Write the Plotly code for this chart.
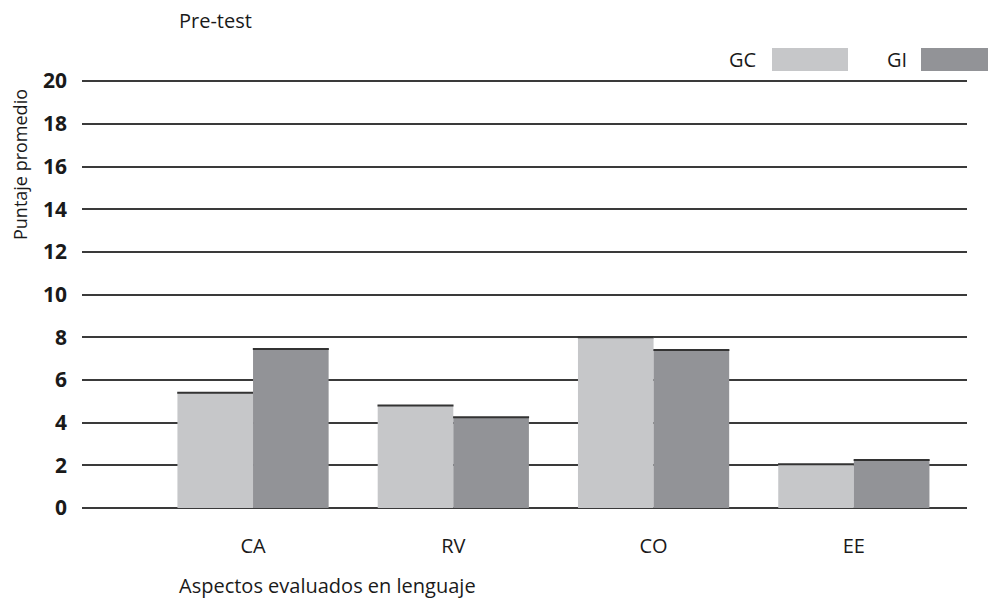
import plotly.graph_objects as go

categories = ["CA", "RV", "CO", "EE"]
gc_values = [5.4, 4.8, 8.0, 2.05]
gi_values = [7.45, 4.25, 7.4, 2.25]
y_ticks = [0, 2, 4, 6, 8, 10, 12, 14, 16, 18, 20]
series_names = ["GC", "GI"]
series_colors = ["#c6c7c9", "#929397"]

W, H = 996, 599
OFF = 8  # page body margin
# desired plot area in page pixels: x 82..967, y 79..508 (range 0..20.1)
L = 82 - OFF
T = 79 - OFF
R = W - (967 - OFF)
B = H - (508 - OFF)
pw, ph = W - L - R, H - T - B

def px(x):
    return (x - OFF - L) / pw

def py(y):
    return (H - B - (y - OFF)) / ph

FONT = "Open Sans"
fig = go.Figure()
for name, vals, col in zip(series_names, [gc_values, gi_values], series_colors):
    fig.add_trace(go.Bar(
        x=categories, y=vals, name=name,
        marker=dict(color=col, line=dict(width=0)),
        error_y=dict(type="data", array=[0] * len(vals), visible=True,
                     color="#333333", thickness=2, width=38),
        showlegend=False,
    ))

fig.update_layout(
    width=W, height=H,
    margin=dict(l=L, r=R, t=T, b=B),
    plot_bgcolor="white", paper_bgcolor="white",
    barmode="group", bargap=0.245, bargroupgap=0,
    font=dict(family=FONT, color="#1a1a1a"),
    xaxis=dict(range=[-0.854, 3.565], showgrid=False, zeroline=False,
               showline=False, ticks="", tickfont=dict(size=20, family=FONT),
               ticklabelstandoff=24),
    yaxis=dict(range=[0, 20.1], tickvals=y_ticks, showgrid=True,
               gridcolor="#3a3a3a", gridwidth=2, zeroline=True,
               zerolinecolor="#3a3a3a", zerolinewidth=2, showline=False,
               ticks="", tickfont=dict(size=21, family=FONT, weight="bold"),
               ticklabelstandoff=14),
)

annots = [
    dict(text="Pre-test", x=px(177), y=py(20), xanchor="left", yanchor="middle", font_size=20),
    dict(text="Aspectos evaluados en lenguaje", x=px(177), y=py(585), xanchor="left", yanchor="middle", font_size=20),
    dict(text="Puntaje promedio", x=px(20), y=py(165), xanchor="center", yanchor="middle", textangle=-90, font_size=18),
    dict(text=series_names[0], x=px(758), y=py(59), xanchor="right", yanchor="middle", font_size=20),
    dict(text=series_names[1], x=px(909), y=py(59), xanchor="right", yanchor="middle", font_size=20),
]
for a in annots:
    fig.add_annotation(xref="paper", yref="paper", showarrow=False, **a)

for (x0, x1), col in zip([(772, 848), (921, 997)], series_colors):
    fig.add_shape(type="rect", xref="paper", yref="paper",
                  x0=px(x0), x1=px(x1), y0=py(71), y1=py(48),
                  fillcolor=col, line=dict(width=0))

fig.write_html("out.html")
